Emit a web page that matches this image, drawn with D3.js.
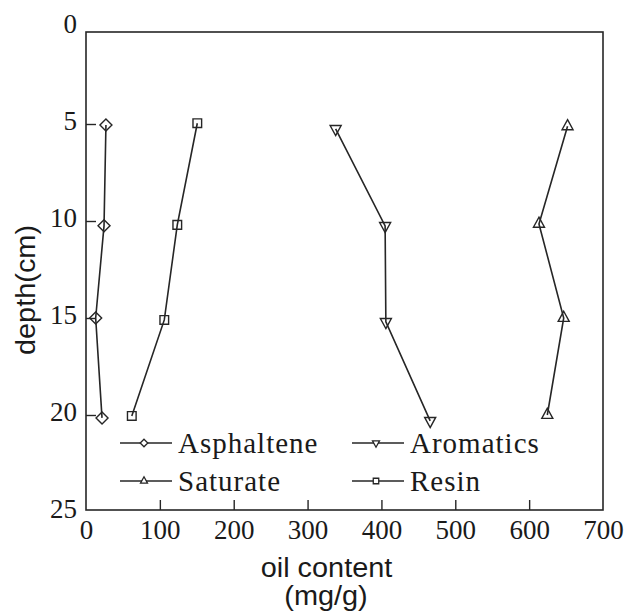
<!DOCTYPE html>
<html>
<head>
<meta charset="utf-8">
<script src="https://cdn.jsdelivr.net/npm/d3@7"></script>
<style>
  body { margin: 0; background: #fff; }
  svg { display: block; }
</style>
</head>
<body>
<svg id="chart" width="634" height="615"></svg>
<script>
// ---- data ----
const seriesNames = ["Asphaltene", "Aromatics", "Saturate", "Resin"];
const asphalteneDepth = [5.05, 10.25, 15.0, 20.15];
const asphalteneValue = [27, 24.4, 13.1, 21.7];
const resinDepth = [4.96, 10.2, 15.1, 20.05];
const resinValue = [150.7, 123.6, 106, 62];
const aromaticsDepth = [5.25, 10.25, 15.2, 20.3];
const aromaticsValue = [338, 405, 406, 466];
const saturateDepth = [5.12, 10.15, 15.0, 20.0];
const saturateValue = [652, 613.3, 646.8, 624.6];
const xTicks = [0, 100, 200, 300, 400, 500, 600, 700];
const yTicks = [0, 5, 10, 15, 20, 25];

// ---- layout ----
const svg = d3.select("#chart");
const plotLeft = 86, plotRight = 603, plotTop = 32, plotBottom = 510;
const x = d3.scaleLinear().domain([0, 700]).range([plotLeft, plotRight]);
const y = d3.scaleLinear().domain([0, 25]).range([27, 512]);
const ink = "#262626";

// frame
svg.append("rect")
  .attr("x", plotLeft).attr("y", plotTop)
  .attr("width", plotRight - plotLeft).attr("height", plotBottom - plotTop)
  .attr("fill", "none").attr("stroke", ink).attr("stroke-width", 1.6);

// x axis
const xAxis = svg.append("g")
  .attr("transform", `translate(0,${plotBottom})`)
  .call(d3.axisBottom(x).tickValues(xTicks).tickSize(-10).tickPadding(10).tickFormat(d3.format("d")));
xAxis.select(".domain").remove();
xAxis.selectAll(".tick line").attr("stroke", ink).attr("stroke-width", 1.4)
  .filter(d => d === 0 || d === 700).remove();
xAxis.selectAll(".tick text")
  .attr("font-family", "'Liberation Serif', 'Times New Roman', serif")
  .attr("font-size", 27).attr("fill", "#1a1a1a");

// y axis
const yAxis = svg.append("g")
  .attr("transform", `translate(${plotLeft},0)`)
  .call(d3.axisLeft(y).tickValues(yTicks).tickSize(-10).tickPadding(9).tickFormat(d3.format("d")));
yAxis.select(".domain").remove();
yAxis.selectAll(".tick line").attr("stroke", ink).attr("stroke-width", 1.4)
  .filter(d => d === 0 || d === 25).remove();
yAxis.selectAll(".tick text")
  .attr("font-family", "'Liberation Serif', 'Times New Roman', serif")
  .attr("font-size", 27).attr("fill", "#1a1a1a").attr("dy", "0.22em");

// axis titles
const sans = "'Liberation Sans', Arial, Helvetica, sans-serif";
svg.append("text")
  .attr("transform", "translate(326.5,576.5) scale(1.07,1)")
  .attr("text-anchor", "middle").attr("font-family", sans).attr("font-size", 27)
  .attr("fill", "#1a1a1a").text("oil content");
svg.append("text")
  .attr("transform", "translate(326,605) scale(1.07,1)")
  .attr("text-anchor", "middle").attr("font-family", sans).attr("font-size", 27)
  .attr("fill", "#1a1a1a").text("(mg/g)");
svg.append("text")
  .attr("transform", "translate(34.5,290) rotate(-90) scale(1.07,1)")
  .attr("text-anchor", "middle").attr("font-family", sans).attr("font-size", 27)
  .attr("fill", "#1a1a1a").text("depth(cm)");

// marker shapes
function markerPath(kind, s) {
  const p = d3.path();
  if (kind === "diamond") {
    p.moveTo(0, -s); p.lineTo(s, 0); p.lineTo(0, s); p.lineTo(-s, 0); p.closePath();
  } else if (kind === "square") {
    const h = s * 0.72;
    p.rect(-h, -h, 2 * h, 2 * h);
  } else if (kind === "up") {
    const w = s * 0.92, hh = s * 1.68;
    p.moveTo(0, -hh * 2 / 3); p.lineTo(w, hh / 3); p.lineTo(-w, hh / 3); p.closePath();
  } else if (kind === "down") {
    const w = s * 0.92, hh = s * 1.68;
    p.moveTo(0, hh * 2 / 3); p.lineTo(w, -hh / 3); p.lineTo(-w, -hh / 3); p.closePath();
  }
  return p.toString();
}

const series = [
  { name: "Asphaltene", depth: asphalteneDepth, value: asphalteneValue, kind: "diamond" },
  { name: "Aromatics", depth: aromaticsDepth, value: aromaticsValue, kind: "down" },
  { name: "Saturate", depth: saturateDepth, value: saturateValue, kind: "up" },
  { name: "Resin", depth: resinDepth, value: resinValue, kind: "square" }
];

const line = d3.line().x(d => x(d.v)).y(d => y(d.d));

series.forEach(s => {
  const pts = s.depth.map((d, i) => ({ d: d, v: s.value[i] }));
  svg.append("path").datum(pts)
    .attr("d", line).attr("fill", "none")
    .attr("stroke", ink).attr("stroke-width", 1.6);
  svg.selectAll(null).data(pts).enter().append("path")
    .attr("transform", d => `translate(${x(d.v)},${y(d.d)})`)
    .attr("d", markerPath(s.kind, 6))
    .attr("fill", "none").attr("stroke", ink).attr("stroke-width", 1.4);
});

// legend
const legendItems = [
  { name: "Asphaltene", kind: "diamond", lx: 120, ly: 443 },
  { name: "Aromatics", kind: "down", lx: 352, ly: 443 },
  { name: "Saturate", kind: "up", lx: 120, ly: 481 },
  { name: "Resin", kind: "square", lx: 352, ly: 481 }
];
const lg = svg.append("g");
legendItems.forEach(it => {
  lg.append("line").attr("x1", it.lx).attr("x2", it.lx + 52)
    .attr("y1", it.ly).attr("y2", it.ly)
    .attr("stroke", ink).attr("stroke-width", 1.6);
  lg.append("path")
    .attr("transform", `translate(${it.lx + 24},${it.ly})`)
    .attr("d", markerPath(it.kind, 3.8))
    .attr("fill", "#fff").attr("stroke", ink).attr("stroke-width", 1.3);
  lg.append("text")
    .attr("x", it.lx + 58).attr("y", it.ly + 9.5)
    .attr("font-family", "'Liberation Serif', 'Times New Roman', serif")
    .attr("font-size", 29).attr("letter-spacing", 1)
    .attr("fill", "#1a1a1a").text(it.name);
});
</script>
</body>
</html>
